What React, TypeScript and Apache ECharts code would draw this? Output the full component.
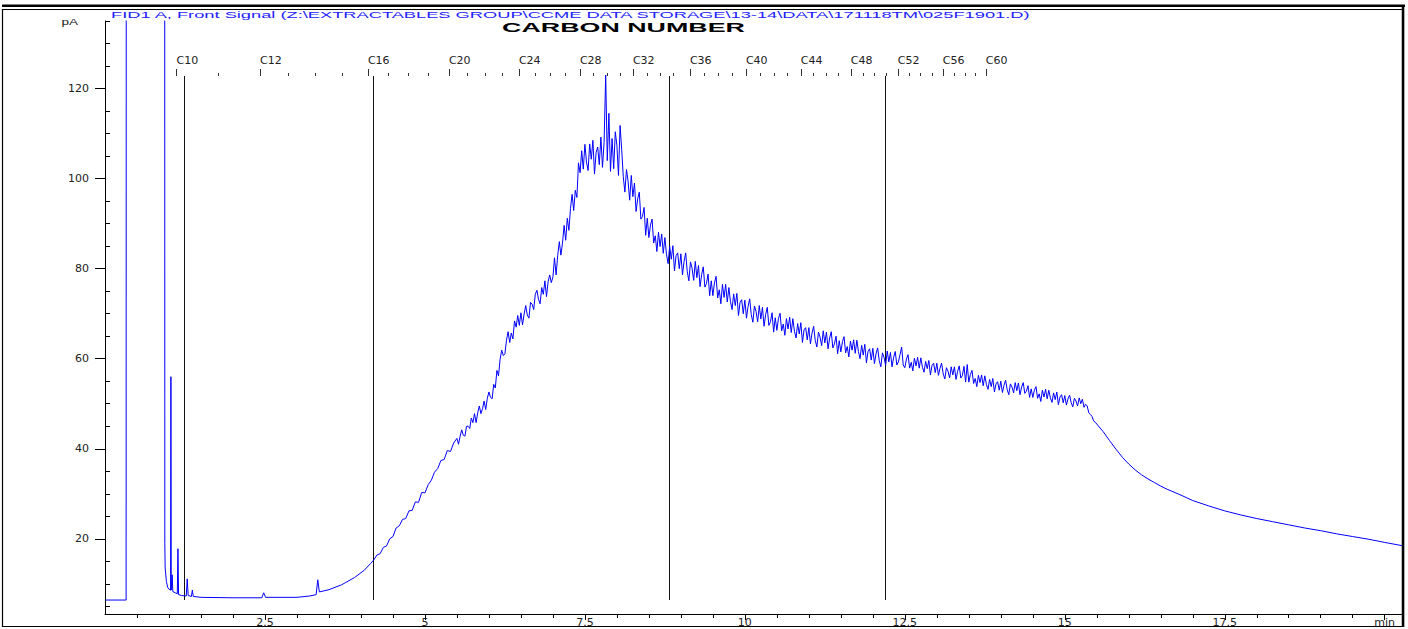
import React, { useEffect, useRef } from "react";
import * as echarts from "echarts";

// ---------- text ----------
const headerText =
  "FID1 A, Front Signal (Z:\\EXTRACTABLES GROUP\\CCME DATA STORAGE\\13-14\\DATA\\171118TM\\025F1901.D)";
const titleText = "CARBON NUMBER";
const yUnit = "pA";
const xUnit = "min";

// ---------- axes ----------
const xMin = 0;
const xMax = 20.27;
const yMin = 3.3;
const yMax = 135;
const xMajorTicks = [2.5, 5, 7.5, 10, 12.5, 15, 17.5, 20];
const xMinorTicks = [0.5, 1, 1.5, 2, 3, 3.5, 4, 4.5, 5.5, 6, 6.5, 7, 8, 8.5, 9, 9.5, 10.5, 11, 11.5, 12, 13, 13.5, 14, 14.5, 15.5, 16, 16.5, 17, 18, 18.5, 19, 19.5];
const yMajorTicks = [20, 40, 60, 80, 100, 120];
const yMinorTicks = [5, 10, 15, 25, 30, 35, 45, 50, 55, 65, 70, 75, 85, 90, 95, 105, 110, 115, 125, 130, 135];

// ---------- carbon number calibration (retention time, min) ----------
const carbonNumbers = [10, 11, 12, 13, 14, 15, 16, 17, 18, 19, 20, 21, 22, 23, 24, 25, 26, 27, 28, 29, 30, 31, 32, 33, 34, 35, 36, 37, 38, 39, 40, 41, 42, 43, 44, 45, 46, 47, 48, 49, 50, 51, 52, 53, 54, 55, 56, 57, 58, 59, 60];
const carbonTimes = [1.117, 1.766, 2.422, 2.859, 3.281, 3.703, 4.109, 4.422, 4.734, 5.047, 5.375, 5.656, 5.938, 6.203, 6.469, 6.719, 6.953, 7.188, 7.422, 7.625, 7.844, 8.047, 8.25, 8.469, 8.672, 8.875, 9.141, 9.359, 9.578, 9.797, 10.016, 10.234, 10.453, 10.656, 10.875, 11.063, 11.266, 11.453, 11.656, 11.844, 12.016, 12.203, 12.391, 12.563, 12.734, 12.922, 13.094, 13.266, 13.438, 13.594, 13.766];
const carbonLabeled = [10, 12, 16, 20, 24, 28, 32, 36, 40, 44, 48, 52, 56, 60];

// ---------- marker lines ----------
const markerTimes = [1.234, 4.1875, 8.8125, 12.1875];
const markerLow = 6.4;
const markerHigh = 122.8;

// ---------- signal (pA) ----------
const earlyTrace: [number, number][] = [
  [0, 6.4], [0.33, 6.4], [0.335, 400], [0.93, 400], [0.935, 19], [0.94, 13.5], [0.96, 10.5],
  [0.98, 9.2], [1.0, 8.8], [1.025, 8.6], [1.03, 56], [1.035, 8.6], [1.05, 12], [1.06, 8.3],
  [1.1, 8.0], [1.13, 7.8], [1.14, 17.8], [1.15, 7.6], [1.2, 7.4], [1.27, 7.3], [1.285, 11.1],
  [1.3, 7.4], [1.35, 7.2], [1.365, 8.6], [1.38, 7.2], [1.5, 7.0], [2.0, 6.9], [2.45, 6.9],
  [2.48, 8.0], [2.51, 7.0], [3.0, 7.0], [3.2, 7.3], [3.3, 7.6], [3.325, 10.9], [3.35, 8.2],
  [3.5, 8.7], [3.7, 9.8], [3.9, 11.4], [4.05, 13.0], [4.15, 14.5],
];
// 4.20 .. 5.45, every 0.05 min
const riseStart = 4.2;
const riseStep = 0.05;
const riseTrace = [
  15.3, 16.4, 16.7, 18.1, 18.4, 20.0, 20.5, 22.4, 22.9, 24.3,
  24.5, 26.2, 26.3, 28.2, 28.1, 30.3, 30.2, 32.0, 33.0, 34.8,
  35.6, 37.4, 37.6, 39.6, 39.4, 41.3,
];
// 5.500 .. 15.475, every 0.025 min (one row = 0.25 min)
const noisyStart = 5.5;
const noisyStep = 0.025;
const noisyTrace = [
  42.3, 41.0, 42.8, 44.2, 43.0, 42.8, 45.0, 45.0, 44.5, 46.8, // 5.50
  45.8, 47.8, 45.8, 48.0, 49.5, 47.8, 48.9, 50.6, 48.7, 51.2, // 5.75
  52.6, 51.4, 51.1, 54.3, 53.5, 57.4, 56.2, 59.9, 61.9, 60.7, // 6.00
  61.1, 64.1, 66.0, 63.6, 65.7, 64.4, 68.4, 67.0, 69.6, 67.4, // 6.25
  70.2, 67.5, 69.9, 71.8, 69.7, 69.0, 72.5, 72.1, 70.9, 74.3, // 6.50
  75.2, 73.2, 72.2, 75.8, 74.3, 77.3, 73.8, 77.1, 78.6, 76.9, // 6.75
  78.1, 82.4, 78.6, 82.9, 86.0, 83.0, 85.7, 89.6, 86.3, 91.2, // 7.00
  88.5, 93.4, 96.5, 92.9, 97.4, 95.8, 103.5, 101.3, 106.2, 102.1, // 7.25
  107.6, 103.7, 101.8, 107.7, 104.3, 108.5, 101.0, 105.8, 107.0, 103.1, // 7.50
  109.2, 102.5, 108.0, 123.0, 104.0, 114.5, 101.6, 108.9, 102.2, 110.4, // 7.75
  107.4, 100.7, 111.8, 106.4, 100.4, 97.0, 102.0, 99.4, 95.2, 100.7, // 8.00
  96.0, 99.0, 92.7, 95.5, 97.0, 91.0, 91.6, 93.6, 87.4, 91.2, // 8.25
  86.9, 89.7, 91.0, 85.7, 87.3, 83.8, 88.1, 84.9, 87.7, 83.4, // 8.50
  86.9, 83.2, 81.1, 85.0, 82.1, 85.1, 79.5, 82.9, 83.5, 80.0, // 8.75
  83.3, 78.6, 81.6, 83.5, 79.3, 77.3, 81.5, 80.1, 77.4, 81.6, // 9.00
  78.0, 80.7, 76.0, 78.7, 80.4, 75.9, 76.7, 78.8, 74.0, 77.3, // 9.25
  74.0, 76.8, 78.3, 73.5, 75.3, 72.2, 76.5, 73.6, 76.5, 72.6, // 9.50
  75.8, 72.7, 70.9, 74.4, 71.8, 74.5, 69.6, 72.5, 73.1, 70.0, // 9.75
  73.0, 69.0, 71.6, 73.3, 69.8, 68.1, 71.7, 70.5, 68.2, 71.8, // 10.00
  68.8, 71.4, 67.2, 69.8, 71.4, 67.4, 68.2, 70.2, 65.9, 69.1, // 10.25
  66.3, 68.9, 70.1, 66.2, 67.7, 65.2, 68.9, 66.6, 69.2, 65.8, // 10.50
  68.9, 66.1, 64.6, 67.8, 65.5, 68.0, 63.6, 66.4, 66.9, 64.2, // 10.75
  66.9, 63.3, 65.7, 67.2, 64.1, 62.6, 65.9, 64.8, 62.9, 66.2, // 11.00
  63.5, 65.9, 62.2, 64.6, 66.0, 62.4, 63.3, 65.0, 61.1, 64.0, // 11.25
  61.5, 63.8, 64.9, 61.3, 62.7, 60.4, 63.9, 61.9, 64.2, 61.2, // 11.50
  64.1, 61.6, 60.0, 63.0, 60.8, 63.2, 59.1, 61.6, 62.2, 59.7, // 11.75
  62.3, 58.9, 61.1, 62.4, 59.6, 58.2, 61.3, 60.3, 58.5, 61.7, // 12.00
  59.3, 61.4, 58.2, 60.3, 61.6, 58.6, 59.3, 60.9, 62.6, 58.6, // 12.25
  58.0, 59.9, 60.9, 57.9, 59.2, 57.3, 60.1, 58.4, 60.3, 57.9, // 12.50
  60.2, 58.1, 57.0, 59.4, 57.8, 59.6, 56.4, 58.5, 59.0, 56.9, // 12.75
  59.0, 56.3, 57.9, 59.0, 56.6, 55.5, 58.0, 57.2, 55.7, 58.2, // 13.00
  56.4, 58.2, 55.4, 57.2, 58.4, 55.7, 56.3, 58.3, 54.8, 58.7, // 13.25
  54.8, 56.5, 57.4, 54.5, 55.6, 53.8, 56.3, 54.7, 56.4, 54.0, // 13.50
  56.2, 54.3, 53.2, 55.4, 53.8, 55.6, 52.6, 54.4, 54.9, 53.0, // 13.75
  55.0, 52.5, 54.1, 55.2, 53.1, 52.0, 54.4, 53.7, 52.4, 54.7, // 14.00
  52.9, 54.6, 52.0, 53.7, 54.7, 52.3, 52.8, 54.0, 51.4, 53.3, // 14.25
  51.4, 53.0, 53.8, 51.2, 52.2, 50.5, 53.0, 51.5, 53.2, 51.1, // 14.50
  53.0, 51.3, 50.3, 52.4, 50.9, 52.6, 49.8, 51.5, 52.0, 50.2, // 14.75
  51.8, 49.7, 51.1, 51.9, 50.2, 49.3, 51.2, 50.6, 49.5, 51.3, // 15.00
  50.0, 51.0, 49.2, 49.9, 49.5, 48.0, 47.6, 47.2, 46.2, 45.9, // 15.25
];
const tailTrace: [number, number][] = [
  [15.6, 43.8], [15.7, 41.8], [15.8, 39.9], [15.9, 38.1], [16.0, 36.6], [16.1, 35.3],
  [16.2, 34.2], [16.3, 33.3], [16.4, 32.5], [16.5, 31.7], [16.6, 31.0], [16.8, 29.8],
  [17.0, 28.5], [17.25, 27.3], [17.5, 26.2], [17.75, 25.3], [18.0, 24.5], [18.25, 23.8],
  [18.5, 23.1], [18.75, 22.4], [19.0, 21.8], [19.25, 21.1], [19.5, 20.5], [19.75, 19.9],
  [20.0, 19.2], [20.3, 18.4],
];

function measure(text: string, font: string): number {
  const ctx = document.createElement("canvas").getContext("2d");
  if (!ctx) return text.length * 6;
  ctx.font = font;
  return ctx.measureText(text).width;
}

export default function App() {
  const ref = useRef<HTMLDivElement>(null);

  useEffect(() => {
    if (!ref.current) return;
    const chart = echarts.init(ref.current, null, { renderer: "svg" });

    const risePoints = riseTrace.map((v, i) => [+(riseStart + i * riseStep).toFixed(3), v]);
    const noisyPoints = noisyTrace.map((v, i) => [+(noisyStart + i * noisyStep).toFixed(3), v]);
    const signal = [...earlyTrace, ...risePoints, ...noisyPoints, ...tailTrace];

    const labeledTimes = carbonLabeled.map((c) => carbonTimes[carbonNumbers.indexOf(c)]);
    const carbonName = (v: number) => {
      let best = 0;
      for (let i = 0; i < carbonTimes.length; i++) {
        if (Math.abs(carbonTimes[i] - v) < Math.abs(carbonTimes[best] - v)) best = i;
      }
      return "C" + carbonNumbers[best];
    };

    const hdrFont = '9px "Liberation Sans"';
    const hdrScale = 921 / measure(headerText, hdrFont);
    const titleFont = 'bold 13px "Liberation Sans"';
    const titleScale = 243 / measure(titleText, titleFont);

    const axisColor = "#000";
    const labelColor = "#222";

    chart.setOption({
      animation: false,
      backgroundColor: "#fff",
      textStyle: { fontFamily: "DejaVu Sans" },
      grid: [
        { left: 105, right: 6, top: 21, bottom: 15 },
        { left: 105, right: 6, top: 75, height: 1 },
      ],
      xAxis: [
        {
          gridIndex: 0, type: "value", min: xMin, max: xMax, position: "bottom",
          axisLine: { show: true, lineStyle: { color: axisColor, width: 1 } },
          axisTick: { show: true, customValues: xMajorTicks, length: 6, lineStyle: { color: axisColor } },
          axisLabel: {
            show: true, customValues: xMajorTicks, margin: 3, fontSize: 11, color: labelColor,
            formatter: (v: number) => (v === 20 ? xUnit : String(v)),
          },
          splitLine: { show: false },
        },
        {
          gridIndex: 0, type: "value", min: xMin, max: xMax, position: "bottom",
          axisLine: { show: false },
          axisTick: { show: true, customValues: xMinorTicks, length: 4, lineStyle: { color: axisColor } },
          axisLabel: { show: false },
          splitLine: { show: false },
        },
        {
          gridIndex: 1, type: "value", min: xMin, max: xMax, position: "top",
          axisLine: { show: false },
          axisTick: { show: true, customValues: carbonTimes, length: 3, lineStyle: { color: "#333" } },
          axisLabel: { show: false },
          splitLine: { show: false },
        },
        {
          gridIndex: 1, type: "value", min: xMin, max: xMax, position: "top",
          axisLine: { show: false },
          axisTick: { show: true, customValues: labeledTimes, length: 6, lineStyle: { color: "#333" } },
          axisLabel: {
            show: true, customValues: labeledTimes, margin: 9, fontSize: 11, color: labelColor,
            align: "left", formatter: (v: number) => carbonName(v),
          },
          splitLine: { show: false },
        },
      ],
      yAxis: [
        {
          gridIndex: 0, type: "value", min: yMin, max: yMax,
          axisLine: { show: true, lineStyle: { color: axisColor, width: 1 } },
          axisTick: { show: true, customValues: yMajorTicks, length: 10, lineStyle: { color: axisColor } },
          axisLabel: { show: true, customValues: yMajorTicks, margin: 16, fontSize: 11, color: labelColor },
          splitLine: { show: false },
        },
        {
          gridIndex: 0, type: "value", min: yMin, max: yMax,
          axisLine: { show: false },
          axisTick: { show: true, customValues: yMinorTicks, length: 5, lineStyle: { color: axisColor } },
          axisLabel: { show: false },
          splitLine: { show: false },
        },
        { gridIndex: 1, type: "value", show: false, min: 0, max: 1 },
      ],
      series: [
        {
          type: "line",
          xAxisIndex: 0, yAxisIndex: 0,
          data: signal,
          showSymbol: false,
          symbol: "none",
          clip: true,
          lineStyle: { color: "#0000ff", width: 1 },
          z: 3,
        },
        {
          type: "lines",
          coordinateSystem: "cartesian2d",
          xAxisIndex: 0, yAxisIndex: 0,
          data: markerTimes.map((t) => ({ coords: [[t, markerLow], [t, markerHigh]] })),
          lineStyle: { color: "#111", width: 1, opacity: 1 },
          z: 2,
        },
      ],
      graphic: [
        {
          type: "text", x: 111, y: 15.2, scaleX: hdrScale, z: 10,
          style: { text: headerText, font: hdrFont, fill: "#2222ff", align: "left", verticalAlign: "middle" },
        },
        {
          type: "text", x: 623.5, y: 27.5, scaleX: titleScale, z: 10,
          style: { text: titleText, font: titleFont, fill: "#000", align: "center", verticalAlign: "middle" },
        },
        {
          type: "text", x: 78, y: 22, scaleX: 1.5, z: 10,
          style: { text: yUnit, font: '9px "Liberation Sans"', fill: labelColor, align: "right", verticalAlign: "middle" },
        },
        {
          type: "line", z: 10,
          shape: { x1: 2, y1: 5.8, x2: 1405, y2: 5.8 },
          style: { stroke: "#000", lineWidth: 2.5 },
        },
        {
          type: "rect", z: 10,
          shape: { x: 2.5, y: 9.5, width: 1401, height: 617 },
          style: { fill: "none", stroke: "#000", lineWidth: 1.2 },
        },
        {
          type: "line", z: 10,
          shape: { x1: 1403, y1: 6, x2: 1403, y2: 627 },
          style: { stroke: "#000", lineWidth: 2.5 },
        },
      ],
    });

    return () => chart.dispose();
  }, []);

  return (
    <div
      ref={ref}
      style={{ position: "fixed", left: 0, top: 0, width: 1408, height: 629, background: "#fff" }}
    />
  );
}
